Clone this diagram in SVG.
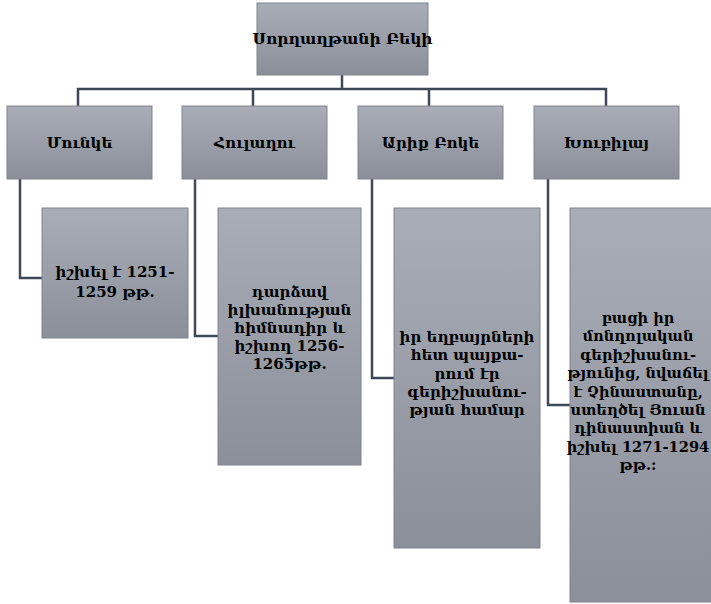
<svg xmlns="http://www.w3.org/2000/svg" width="711" height="604" viewBox="0 0 711 604">
<defs>
<linearGradient id="g" x1="0" y1="0" x2="0" y2="1">
<stop offset="0" stop-color="#a9adb7"/>
<stop offset="1" stop-color="#8a8f9a"/>
</linearGradient>
</defs>
<style>
.box{fill:url(#g);stroke:#7e838d;stroke-width:1}
.t{font-family:"DejaVu Serif","Liberation Serif",serif;font-weight:bold;fill:#000;text-anchor:middle}
.t1{font-size:15.5px}
.t2{font-size:15px}
.t4{font-size:14.6px}
.c{fill:none;stroke:#3d4859;stroke-width:2.5}
</style>
<rect width="711" height="604" fill="#ffffff"/>
<g id="connectors">
<path class="c" d="M342 75 V89 M78 106 V89 H606 V106 M253 89 V106 M429 89 V106"/>
<path class="c" d="M20 179 V278 H42"/>
<path class="c" d="M195 179 V336 H218"/>
<path class="c" d="M372 179 V378 H394"/>
<path class="c" d="M548 179 V405 H570"/>
</g>
<g id="root">
<rect class="box" x="257" y="3" width="171" height="72"/>
<text class="t t1" x="342.5" y="44">Սորղաղթանի Բեկի</text>
</g>
<g id="n1">
<rect class="box" x="7" y="106" width="145" height="73"/>
<text class="t t2" x="79.5" y="148">Մունկե</text>
</g>
<g id="n2">
<rect class="box" x="182" y="106" width="145" height="73"/>
<text class="t t2" x="254.5" y="148">Հուլաղու</text>
</g>
<g id="n3">
<rect class="box" x="358" y="106" width="145" height="73"/>
<text class="t t2" x="430.5" y="148">Արիք Բոկե</text>
</g>
<g id="n4">
<rect class="box" x="534" y="106" width="145" height="73"/>
<text class="t t2" x="606.5" y="148">Խուբիլայ</text>
</g>
<g id="d1">
<rect class="box" x="42" y="208" width="146" height="130"/>
<text class="t t2" x="115" y="277">իշխել է 1251-<tspan x="115" dy="20">1259 թթ.</tspan></text>
</g>
<g id="d2">
<rect class="box" x="218" y="208" width="143" height="257"/>
<text class="t t2" x="289.5" y="297">դարձավ<tspan x="289.5" dy="18">իլխանության</tspan><tspan x="289.5" dy="18">հիմնադիր և</tspan><tspan x="289.5" dy="18">իշխող 1256-</tspan><tspan x="289.5" dy="18">1265թթ.</tspan></text>
</g>
<g id="d3">
<rect class="box" x="394" y="208" width="146" height="340"/>
<text class="t t2" x="467" y="342">իր եղբայրների<tspan x="467" dy="18.3">հետ պայքա-</tspan><tspan x="467" dy="18.3">րում էր</tspan><tspan x="467" dy="18.3">գերիշխանու-</tspan><tspan x="467" dy="18.3">թյան համար</tspan></text>
</g>
<g id="d4">
<rect class="box" x="570" y="208" width="150" height="394"/>
<text class="t t4" x="638" y="323">բացի իր<tspan x="638" dy="18.4">մոնղոլական</tspan><tspan x="638" dy="18.4">գերիշխանու-</tspan><tspan x="638" dy="18.4">թյունից, նվաճել</tspan><tspan x="638" dy="18.4">է Չինաստանը,</tspan><tspan x="638" dy="18.4">ստեղծել Յուան</tspan><tspan x="638" dy="18.4">դինաստիան և</tspan><tspan x="638" dy="18.4">իշխել 1271-1294</tspan><tspan x="638" dy="18.4">թթ.:</tspan></text>
</g>
</svg>
